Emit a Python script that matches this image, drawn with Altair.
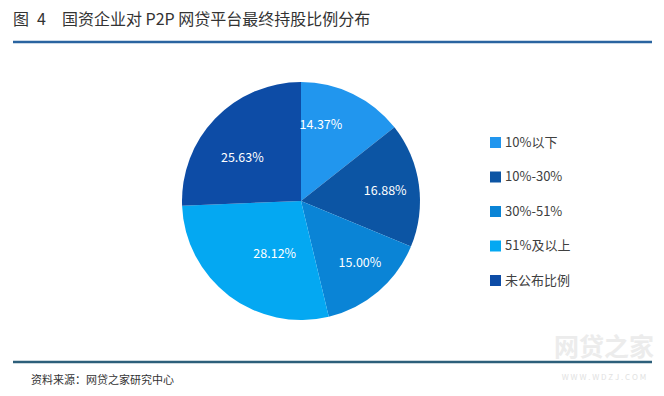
import altair as alt
import pandas as pd

categories = ["10%以下", "10%-30%", "30%-51%", "51%及以上", "未公布比例"]
values = [14.37, 16.88, 15.00, 28.12, 25.63]
colors = ["#2196ee", "#0c55a4", "#0a84d6", "#04a8f2", "#0d4ca6"]

fig_no = "图"
fig_num = "4"
title_text = "国资企业对 P2P 网贷平台最终持股比例分布"
source_text = "资料来源：网贷之家研究中心"

df = pd.DataFrame({
    "cat": categories,
    "val": values,
    "order": list(range(len(categories))),
    "label": [f"{v:.2f}%" for v in values],
})

FONT = "Noto Sans CJK SC"
P = 4  # padding
cx, cy, R = 293 - P, 193 - P, 119
total = float(sum(values))

color_scale = alt.Scale(domain=categories, range=colors)

pie = alt.Chart(df).mark_arc(outerRadius=R, strokeWidth=0).encode(
    theta=alt.Theta("val:Q", stack=True),
    order=alt.Order("order:Q"),
    x=alt.value(cx), y=alt.value(cy),
    color=alt.Color("cat:N", scale=color_scale, sort=categories,
                    legend=alt.Legend(
                        title=None, orient="none", legendX=481 - P, legendY=128 - P,
                        symbolType="square", symbolSize=121, symbolStrokeWidth=0,
                        labelFont=FONT, labelFontSize=13, labelColor="#404040",
                        rowPadding=20.5, symbolOffset=0, labelOffset=3,
                    )),
)

# small per-label nudges to follow the reference placement
nudges = {
    "10%以下": (-15, -4),
    "10%-30%": (5, 1),
    "30%-51%": (7, 1),
    "51%及以上": (22, -11),
    "未公布比例": (-1, 12),
}
label_layers = []
for c in categories:
    dx, dy = nudges[c]
    label_layers.append(
        alt.Chart(df)
        .transform_stack(stack="val", groupby=[], as_=["v0", "v1"],
                         sort=[alt.SortField("order", order="ascending")])
        .transform_calculate(mid="(datum.v0 + datum.v1) / 2")
        .transform_filter(alt.datum.cat == c)
        .mark_text(radius=80, font=FONT, fontSize=12.5, color="white", dx=dx, dy=dy)
        .encode(
            theta=alt.Theta("mid:Q", scale=alt.Scale(domain=[0, total]), stack=None),
            x=alt.value(cx), y=alt.value(cy), text="label:N",
        )
    )

one = pd.DataFrame({"a": [0]})
def txt(s, x, y, size, color="#333333", **kw):
    return alt.Chart(one).mark_text(align="left", baseline="middle", font=FONT,
                                    fontSize=size, color=color, **kw).encode(
        x=alt.value(x - P), y=alt.value(y - P), text=alt.value(s))

title1 = txt(fig_no, 5, 12, 16)
title2 = txt(fig_num, 29, 12, 16)
title3 = txt(title_text, 54, 12, 16)
source = txt(source_text, 23, 373, 11)
top_rule = alt.Chart(one).mark_rule(color="#2a64a0", strokeWidth=2.5).encode(
    x=alt.value(5 - P), x2=alt.value(644 - P), y=alt.value(34 - P))
bot_rule = alt.Chart(one).mark_rule(color="#2d5f7a", strokeWidth=2.5).encode(
    x=alt.value(5 - P), x2=alt.value(644 - P), y=alt.value(354 - P))
wm = alt.Chart(one).mark_text(align="center", baseline="middle", font=FONT,
                              fontSize=25, fontWeight="bold", color="#ececec").encode(
    x=alt.value(596 - P), y=alt.value(340 - P), text=alt.value("网贷之家"))
wm2 = alt.Chart(one).mark_text(align="center", baseline="middle", font=FONT,
                               fontSize=8, color="#e2e2e2").encode(
    x=alt.value(596 - P), y=alt.value(370 - P), text=alt.value("W W W . W D Z J . C O M"))

chart = alt.layer(wm, wm2, pie, *label_layers, title1, title2, title3, source,
                  top_rule, bot_rule).properties(
    width=646 - 2 * P, height=378 - 2 * P, padding=P, autosize="none",
    background="white",
).configure_view(stroke=None, strokeWidth=0)

chart.save("out.html", embed_options={"renderer": "svg", "actions": False})
